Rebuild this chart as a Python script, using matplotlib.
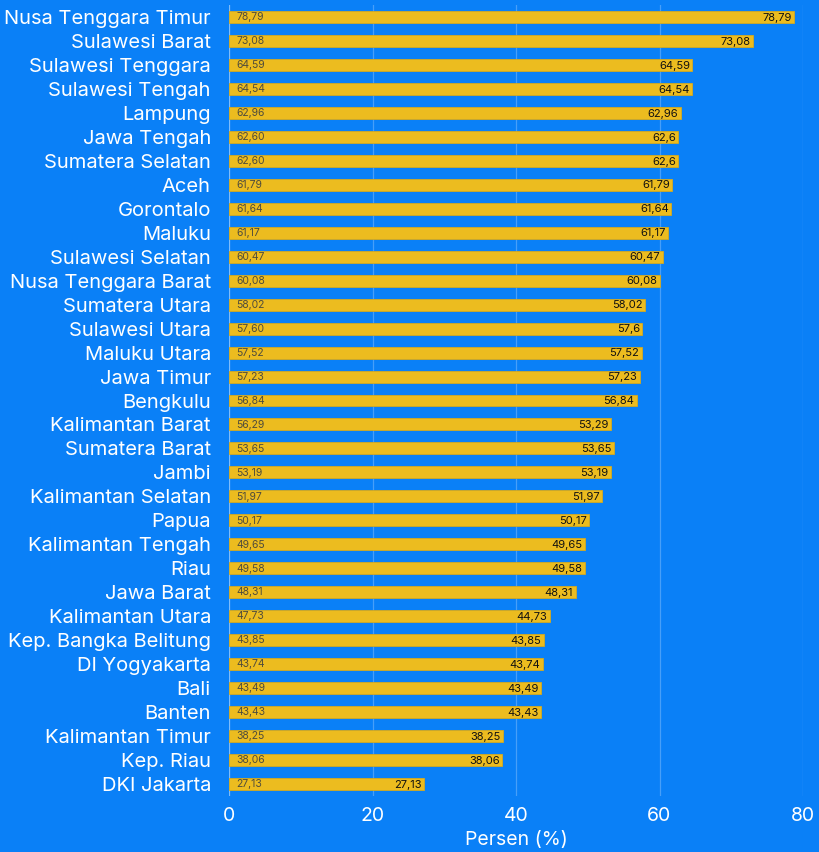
import matplotlib.pyplot as plt

provinsi = ["Nusa Tenggara Timur", "Sulawesi Barat", "Sulawesi Tenggara", "Sulawesi Tengah",
            "Lampung", "Jawa Tengah", "Sumatera Selatan", "Aceh", "Gorontalo", "Maluku",
            "Sulawesi Selatan", "Nusa Tenggara Barat", "Sumatera Utara", "Sulawesi Utara",
            "Maluku Utara", "Jawa Timur", "Bengkulu", "Kalimantan Barat", "Sumatera Barat",
            "Jambi", "Kalimantan Selatan", "Papua", "Kalimantan Tengah", "Riau", "Jawa Barat",
            "Kalimantan Utara", "Kep. Bangka Belitung", "DI Yogyakarta", "Bali", "Banten",
            "Kalimantan Timur", "Kep. Riau", "DKI Jakarta"]
persen = [78.79, 73.08, 64.59, 64.54, 62.96, 62.6, 62.6, 61.79, 61.64, 61.17,
          60.47, 60.08, 58.02, 57.6, 57.52, 57.23, 56.84, 53.29, 53.65,
          53.19, 51.97, 50.17, 49.65, 49.58, 48.31,
          44.73, 43.85, 43.74, 43.49, 43.43,
          38.25, 38.06, 27.13]
# small labels drawn at the start of each bar
label_kiri = ["78,79", "73,08", "64,59", "64,54", "62,96", "62,60", "62,60", "61,79", "61,64", "61,17",
              "60,47", "60,08", "58,02", "57,60", "57,52", "57,23", "56,84", "56,29", "53,65",
              "53,19", "51,97", "50,17", "49,65", "49,58", "48,31",
              "47,73", "43,85", "43,74", "43,49", "43,43",
              "38,25", "38,06", "27,13"]

bg = "#0a80f7"
plt.rcParams['font.family'] = ['Inter', 'DejaVu Sans']

fig = plt.figure(figsize=(8.2, 8.52), dpi=100, facecolor=bg)
ax = fig.add_axes([229/820, 1 - 796/852, (803-229)/820, (796-5)/852])
ax.set_facecolor(bg)

y = list(range(len(provinsi)))
ax.barh(y, persen, height=0.5, color="#ecbc1f", edgecolor="#d4a91f", linewidth=0.6, zorder=3)

for i, (v, lk) in enumerate(zip(persen, label_kiri)):
    ax.text(1.0, i + 0.01, lk, ha="left", va="center", fontsize=7.5, color="#4f4c3c", zorder=4)
    txt = f"{v:.2f}".rstrip("0").rstrip(".").replace(".", ",")
    ax.text(v - 0.35, i + 0.03, txt, ha="right", va="center", fontsize=8, color="#111111", zorder=4)

ax.set_ylim(len(provinsi) - 0.5, -0.5)
ax.set_xlim(0, 80)
ax.set_yticks(y)
ax.set_yticklabels(provinsi, fontsize=14.5, color="white")
ax.set_xticks([0, 20, 40, 60, 80])
ax.set_xticklabels(["0", "20", "40", "60", "80"], fontsize=14, color="white")
ax.tick_params(length=0, pad=8)
ax.tick_params(axis="y", pad=13)
ax.grid(axis="x", color="white", alpha=0.25, linewidth=0.9, zorder=0)
for s in ax.spines.values():
    s.set_visible(False)
ax.axvline(0, color="white", alpha=0.3, linewidth=0.9, zorder=1)
ax.set_xlabel("Persen (%)", fontsize=14, color="white", labelpad=4)

fig.savefig("out.png", dpi=100, facecolor=bg)
